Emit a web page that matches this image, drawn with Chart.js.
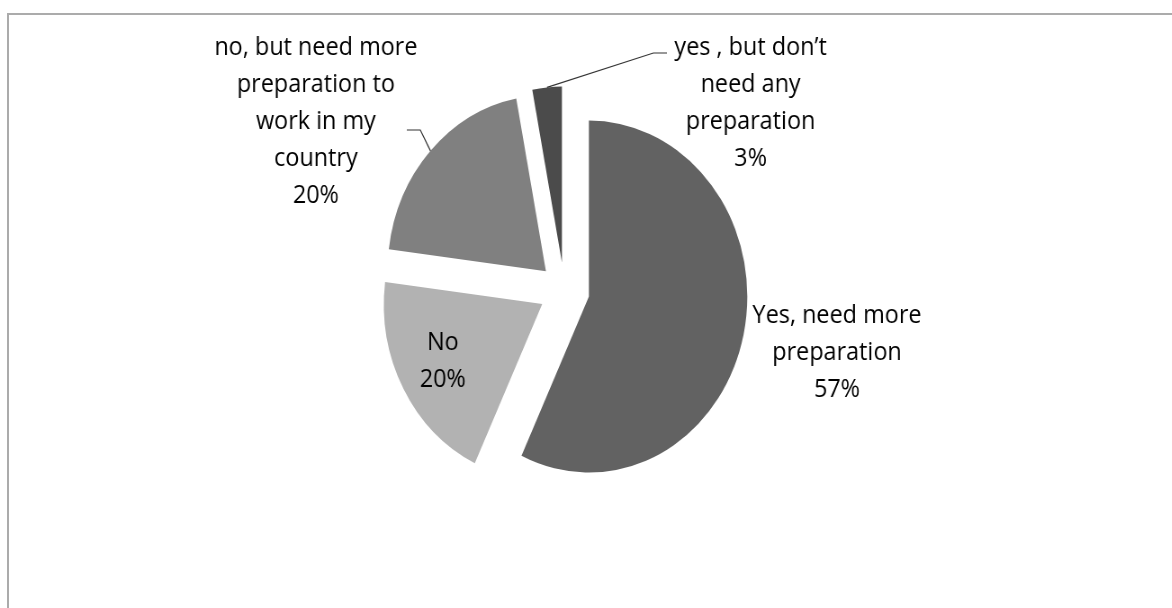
<!DOCTYPE html>
<html>
<head>
<meta charset="utf-8">
<title>Preparation survey</title>
<script src="https://cdn.jsdelivr.net/npm/chart.js@4.4.1/dist/chart.umd.min.js"></script>
<style>
    html, body { margin: 0; padding: 0; background: #fff; overflow: hidden; }
    body { width: 1172px; height: 608px; position: relative; }
    /* grey frame round the plot, open on the right and bottom */
    .frame {
        position: absolute; left: 7px; top: 13px; right: -10px; bottom: -10px;
        border-left: 2px solid #ababab; border-top: 2px solid #ababab;
    }
    /* the chart is drawn a bit wider and squeezed back horizontally */
    .stage {
        position: absolute; left: 0; top: 0; width: 1302px; height: 608px;
        transform: scaleX(0.9); transform-origin: 0 0;
    }
</style>
</head>
<body>
<div class="frame"></div>
<div class="stage"><canvas id="pieChart"></canvas></div>

<script>
// --- SURVEY DATA ---
const categories = [
    ['Yes, need more', 'preparation'],
    ['No'],
    ['no, but need more', 'preparation to', 'work in my', 'country'],
    ['yes , but don’t', 'need any', 'preparation']
];
const shares = [57, 20, 20, 3];
const sliceColors = ['#626262', '#b2b2b2', '#808080', '#4b4b4b'];

// --- LABEL PLACEMENT (canvas px, first baseline) ---
const labelSpots = [
    { x: 930, y: 323 },
    { x: 492, y: 350 },
    { x: 351, y: 55, leader: [[452, 130], [467, 130]] },
    { x: 834, y: 55, leader: [[741, 53], [726, 53]] }
];

const EXPLODE = 28;
const PIE_RADIUS = 176;
const LINE_HEIGHT = 37;

// push every slice out from the centre along its middle angle
const explodePlugin = {
    id: 'explode',
    afterDatasetUpdate(chart, args) {
        args.meta.data.forEach(arc => {
            const mid = (arc.startAngle + arc.endAngle) / 2;
            arc.x += Math.cos(mid) * EXPLODE;
            arc.y += Math.sin(mid) * EXPLODE;
        });
    }
};

// category name + percentage, with leader lines for the outside labels
const sliceLabels = {
    id: 'sliceLabels',
    afterDatasetsDraw(chart) {
        const ctx = chart.ctx;
        const arcs = chart.getDatasetMeta(0).data;
        ctx.save();
        ctx.font = '26px "Open Sans"';
        ctx.fillStyle = '#000';
        ctx.textAlign = 'center';
        ctx.textBaseline = 'alphabetic';

        labelSpots.forEach((spot, i) => {
            const lines = categories[i].concat(shares[i] + '%');
            lines.forEach((txt, k) => ctx.fillText(txt, spot.x, spot.y + k * LINE_HEIGHT));

            if (spot.leader) {
                const arc = arcs[i];
                const mid = (arc.startAngle + arc.endAngle) / 2;
                ctx.beginPath();
                ctx.moveTo(spot.leader[0][0], spot.leader[0][1]);
                ctx.lineTo(spot.leader[1][0], spot.leader[1][1]);
                ctx.lineTo(arc.x + Math.cos(mid) * arc.outerRadius, arc.y + Math.sin(mid) * arc.outerRadius);
                ctx.strokeStyle = '#333';
                ctx.lineWidth = 1.2;
                ctx.stroke();
            }
        });
        ctx.restore();
    }
};

new Chart(document.getElementById('pieChart'), {
    type: 'pie',
    data: {
        labels: categories,
        datasets: [{
            data: shares,
            backgroundColor: sliceColors,
            borderWidth: 0,
            radius: PIE_RADIUS
        }]
    },
    options: {
        responsive: true,
        maintainAspectRatio: false,
        animation: false,
        layout: { padding: { left: 0, top: 0, right: 48, bottom: 27 } },
        plugins: {
            legend: { display: false },
            tooltip: { enabled: false }
        }
    },
    plugins: [explodePlugin, sliceLabels]
});
</script>
</body>
</html>
